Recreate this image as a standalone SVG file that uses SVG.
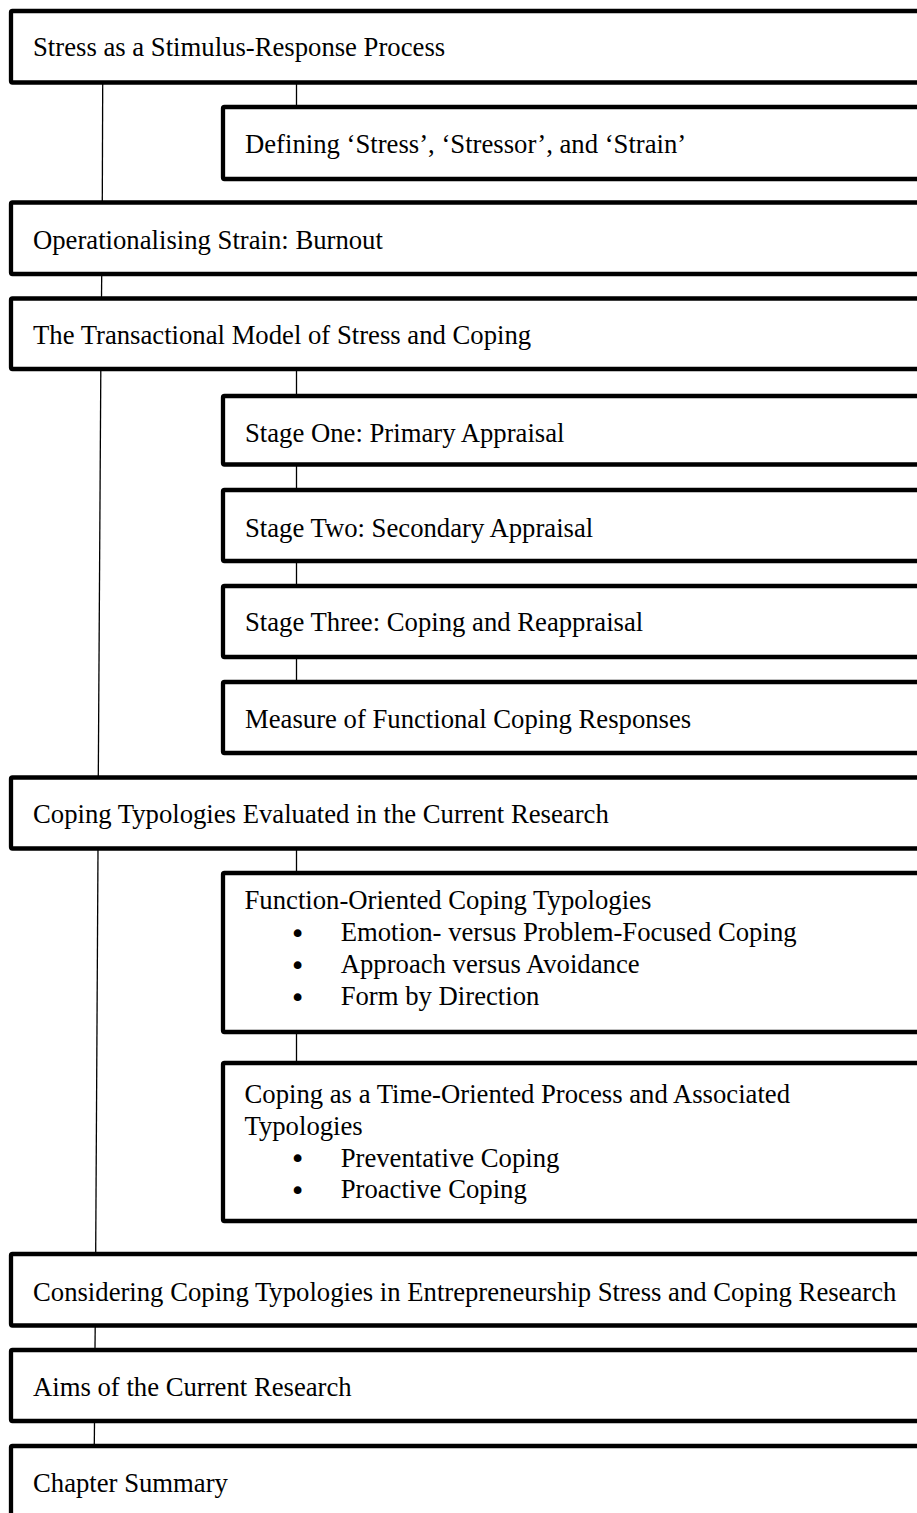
<svg xmlns="http://www.w3.org/2000/svg" width="917" height="1513" viewBox="0 0 917 1513">
<style>
.box{fill:#fff;stroke:#000;stroke-width:4.3;}
.t{font-family:"Liberation Serif","Times New Roman",serif;font-size:26.7px;fill:#000;}
.b{font-family:"DejaVu Sans",sans-serif;font-size:26.7px;fill:#000;text-anchor:middle;}
.c{stroke:#000;stroke-width:1.3;fill:none;}
</style>
<rect width="917" height="1513" fill="#fff"/>
<g id="connectors">
<line class="c" x1="102.7" y1="84" x2="102.3" y2="201"/>
<line class="c" x1="101.7" y1="276" x2="101.5" y2="297"/>
<line class="c" x1="100.8" y1="371" x2="98.3" y2="776"/>
<line class="c" x1="98" y1="850" x2="95.7" y2="1252"/>
<line class="c" x1="95.2" y1="1327" x2="95" y2="1348"/>
<line class="c" x1="94.5" y1="1423" x2="94.3" y2="1444"/>
<line class="c" x1="296.5" y1="84" x2="296.5" y2="105"/>
<line class="c" x1="296.5" y1="371" x2="296.5" y2="394"/>
<line class="c" x1="296.5" y1="466" x2="296.5" y2="488"/>
<line class="c" x1="296.5" y1="563" x2="296.5" y2="584"/>
<line class="c" x1="296.5" y1="659" x2="296.5" y2="680"/>
<line class="c" x1="296.5" y1="850" x2="296.5" y2="871"/>
<line class="c" x1="296.5" y1="1034" x2="296.5" y2="1061"/>
</g>
<g id="n1"><rect class="box" x="11" y="11" width="930" height="71.5" rx="1.5"/><text class="t" x="33" y="56">Stress as a Stimulus-Response Process</text></g>
<g id="n2"><rect class="box" x="223" y="107" width="720" height="72" rx="1.5"/><text class="t" x="245" y="153">Defining ‘Stress’, ‘Stressor’, and ‘Strain’</text></g>
<g id="n3"><rect class="box" x="11" y="202.5" width="930" height="71.5" rx="1.5"/><text class="t" x="33" y="248.5">Operationalising Strain: Burnout</text></g>
<g id="n4"><rect class="box" x="11" y="298.5" width="930" height="70.5" rx="1.5"/><text class="t" x="33" y="343.5">The Transactional Model of Stress and Coping</text></g>
<g id="n5"><rect class="box" x="223" y="396" width="720" height="68.5" rx="1.5"/><text class="t" x="245" y="442">Stage One: Primary Appraisal</text></g>
<g id="n6"><rect class="box" x="223" y="490" width="720" height="71" rx="1.5"/><text class="t" x="245" y="536.5">Stage Two: Secondary Appraisal</text></g>
<g id="n7"><rect class="box" x="223" y="586" width="720" height="71" rx="1.5"/><text class="t" x="245" y="631">Stage Three: Coping and Reappraisal</text></g>
<g id="n8"><rect class="box" x="223" y="682" width="720" height="71" rx="1.5"/><text class="t" x="245" y="727.5">Measure of Functional Coping Responses</text></g>
<g id="n9"><rect class="box" x="11" y="777.5" width="930" height="71" rx="1.5"/><text class="t" x="33" y="823.3">Coping Typologies Evaluated in the Current Research</text></g>
<g id="n10"><rect class="box" x="223" y="873" width="720" height="159" rx="1.5"/>
<text class="t" x="244.5" y="909">Function-Oriented Coping Typologies</text>
<text class="b" x="297.7" y="942.5">•</text><text class="t" x="340.7" y="941.3">Emotion- versus Problem-Focused Coping</text>
<text class="b" x="297.7" y="974.5">•</text><text class="t" x="340.7" y="973.3">Approach versus Avoidance</text>
<text class="b" x="297.7" y="1006.5">•</text><text class="t" x="340.7" y="1005.3">Form by Direction</text>
</g>
<g id="n11"><rect class="box" x="223" y="1063" width="720" height="158" rx="1.5"/>
<text class="t" x="244.5" y="1103.3">Coping as a Time-Oriented Process and Associated</text>
<text class="t" x="244.5" y="1135">Typologies</text>
<text class="b" x="297.7" y="1167.9">•</text><text class="t" x="340.7" y="1166.7">Preventative Coping</text>
<text class="b" x="297.7" y="1199.5">•</text><text class="t" x="340.7" y="1198.3">Proactive Coping</text>
</g>
<g id="n12"><rect class="box" x="11" y="1254" width="930" height="71.5" rx="1.5"/><text class="t" x="33" y="1301">Considering Coping Typologies in Entrepreneurship Stress and Coping Research</text></g>
<g id="n13"><rect class="box" x="11" y="1350" width="930" height="71" rx="1.5"/><text class="t" x="33" y="1396">Aims of the Current Research</text></g>
<g id="n14"><rect class="box" x="11" y="1446" width="930" height="90" rx="1.5"/><text class="t" x="33" y="1491.7">Chapter Summary</text></g>
</svg>
